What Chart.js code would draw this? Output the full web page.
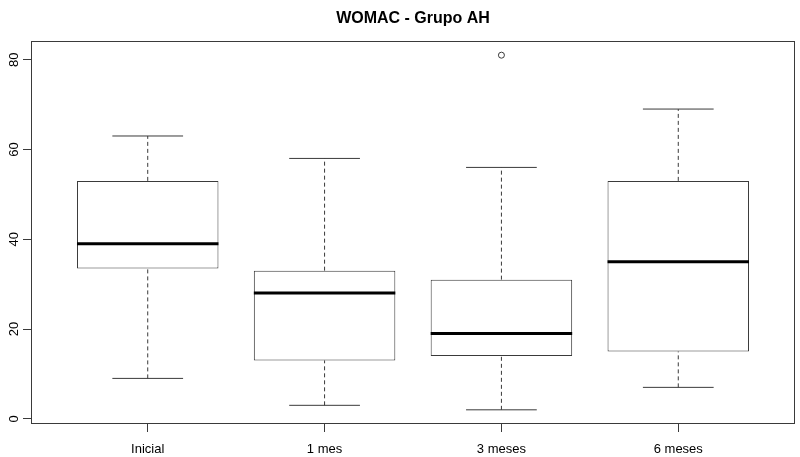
<!DOCTYPE html>
<html>
<head>
<meta charset="utf-8">
<script src="https://cdn.jsdelivr.net/npm/chart.js@4.4.1/dist/chart.umd.min.js"></script>
<style>
  html, body { margin: 0; padding: 0; background: #fff; }
  #wrap { width: 800px; height: 457px; position: relative; }
</style>
</head>
<body>
<div id="wrap"><canvas id="chart"></canvas></div>
<script>
// values
const categories = ['Inicial', '1 mes', '3 meses', '6 meses'];
const whiskerLow = [9, 3, 2, 7];
const q1 = [33.5, 13, 14, 15];
const medians = [39, 28, 19, 35];
const q3 = [53, 33, 31, 53];
const whiskerHigh = [63, 58, 56, 69];
const outliers = [[], [], [81], []];
const yTicks = [0, 20, 40, 60, 80];

const LINE = '#3a3a3a';
const FONT = 'Liberation Sans, Arial, sans-serif';

function segment(points, extra) {
  return Object.assign({
    type: 'line',
    data: points,
    borderColor: LINE,
    borderWidth: 1,
    pointRadius: 0,
    fill: false,
    tension: 0,
  }, extra);
}

const datasets = [];

datasets.push({
  type: 'bar',
  label: 'box',
  data: categories.map((c, i) => ({ x: i + 1, y: [q1[i], q3[i]] })),
  backgroundColor: '#fff',
  borderColor: LINE,
  borderWidth: 1,
  borderSkipped: false,
  categoryPercentage: 1,
  barPercentage: 0.8,
  order: 3,
});

categories.forEach((c, i) => {
  const x = i + 1;
  // whiskers
  datasets.push(segment([{ x: x, y: q3[i] }, { x: x, y: whiskerHigh[i] }], { borderDash: [4, 3], order: 2 }));
  datasets.push(segment([{ x: x, y: whiskerLow[i] }, { x: x, y: q1[i] }], { borderDash: [4, 3], order: 2 }));
  // caps
  datasets.push(segment([{ x: x - 0.2, y: whiskerHigh[i] }, { x: x + 0.2, y: whiskerHigh[i] }], { order: 2 }));
  datasets.push(segment([{ x: x - 0.2, y: whiskerLow[i] }, { x: x + 0.2, y: whiskerLow[i] }], { order: 2 }));
  // median
  datasets.push(segment([{ x: x - 0.4, y: medians[i] }, { x: x + 0.4, y: medians[i] }], { borderColor: '#000', borderWidth: 3, order: 0 }));
});

datasets.push({
  type: 'scatter',
  label: 'outliers',
  data: outliers.flatMap((vals, i) => vals.map((v) => ({ x: i + 1, y: v }))),
  pointStyle: 'circle',
  pointRadius: 3,
  pointBackgroundColor: '#fff',
  pointBorderColor: LINE,
  pointBorderWidth: 1,
  order: 1,
});

const frame = {
  id: 'frame',
  afterDraw(chart) {
    const { ctx, chartArea: { left, right, top, bottom }, scales } = chart;
    ctx.save();
    ctx.strokeStyle = LINE;
    ctx.lineWidth = 1;
    ctx.strokeRect(Math.round(left) + 0.5, Math.round(top) + 0.5, Math.round(right - left) - 1, Math.round(bottom - top) - 1);

    // y tick labels, rotated like R's default
    ctx.fillStyle = '#000';
    ctx.font = '13px ' + FONT;
    ctx.textAlign = 'center';
    ctx.textBaseline = 'alphabetic';
    yTicks.forEach((v) => {
      const y = scales.y.getPixelForValue(v);
      ctx.save();
      ctx.translate(17.5, y);
      ctx.rotate(-Math.PI / 2);
      ctx.fillText(String(v), 0, 0);
      ctx.restore();
    });
    ctx.restore();
  },
};

new Chart(document.getElementById('chart'), {
  type: 'bar',
  data: { datasets },
  options: {
    responsive: true,
    maintainAspectRatio: false,
    animation: false,
    layout: { padding: { top: 0, right: 3, bottom: 0, left: 0 } },
    plugins: {
      legend: { display: false },
      tooltip: { enabled: false },
      title: {
        display: true,
        fullSize: false,
        text: 'WOMAC - Grupo AH',
        color: '#000',
        font: { family: FONT, size: 16, weight: 'bold', lineHeight: 1.2 },
        padding: { top: 8.7, bottom: 13.1 },
      },
    },
    scales: {
      x: {
        type: 'linear',
        min: 0.34,
        max: 4.66,
        offset: false,
        afterBuildTicks: (axis) => { axis.ticks = categories.map((c, i) => ({ value: i + 1 })); },
        afterFit: (axis) => { axis.height = 33; },
        ticks: {
          autoSkip: false,
          maxRotation: 0,
          minRotation: 0,
          padding: 10,
          color: '#000',
          font: { family: FONT, size: 13 },
          callback: (v) => categories[v - 1],
        },
        grid: { drawOnChartArea: false, drawTicks: true, tickLength: 8, color: LINE, offset: false },
        border: { display: false },
      },
      y: {
        type: 'linear',
        min: -1.16,
        max: 84.16,
        afterBuildTicks: (axis) => { axis.ticks = yTicks.map((v) => ({ value: v })); },
        afterFit: (axis) => { axis.width = 31; },
        ticks: { display: false },
        grid: { drawOnChartArea: false, drawTicks: true, tickLength: 8, color: LINE },
        border: { display: false },
      },
    },
  },
  plugins: [frame],
});
</script>
</body>
</html>
